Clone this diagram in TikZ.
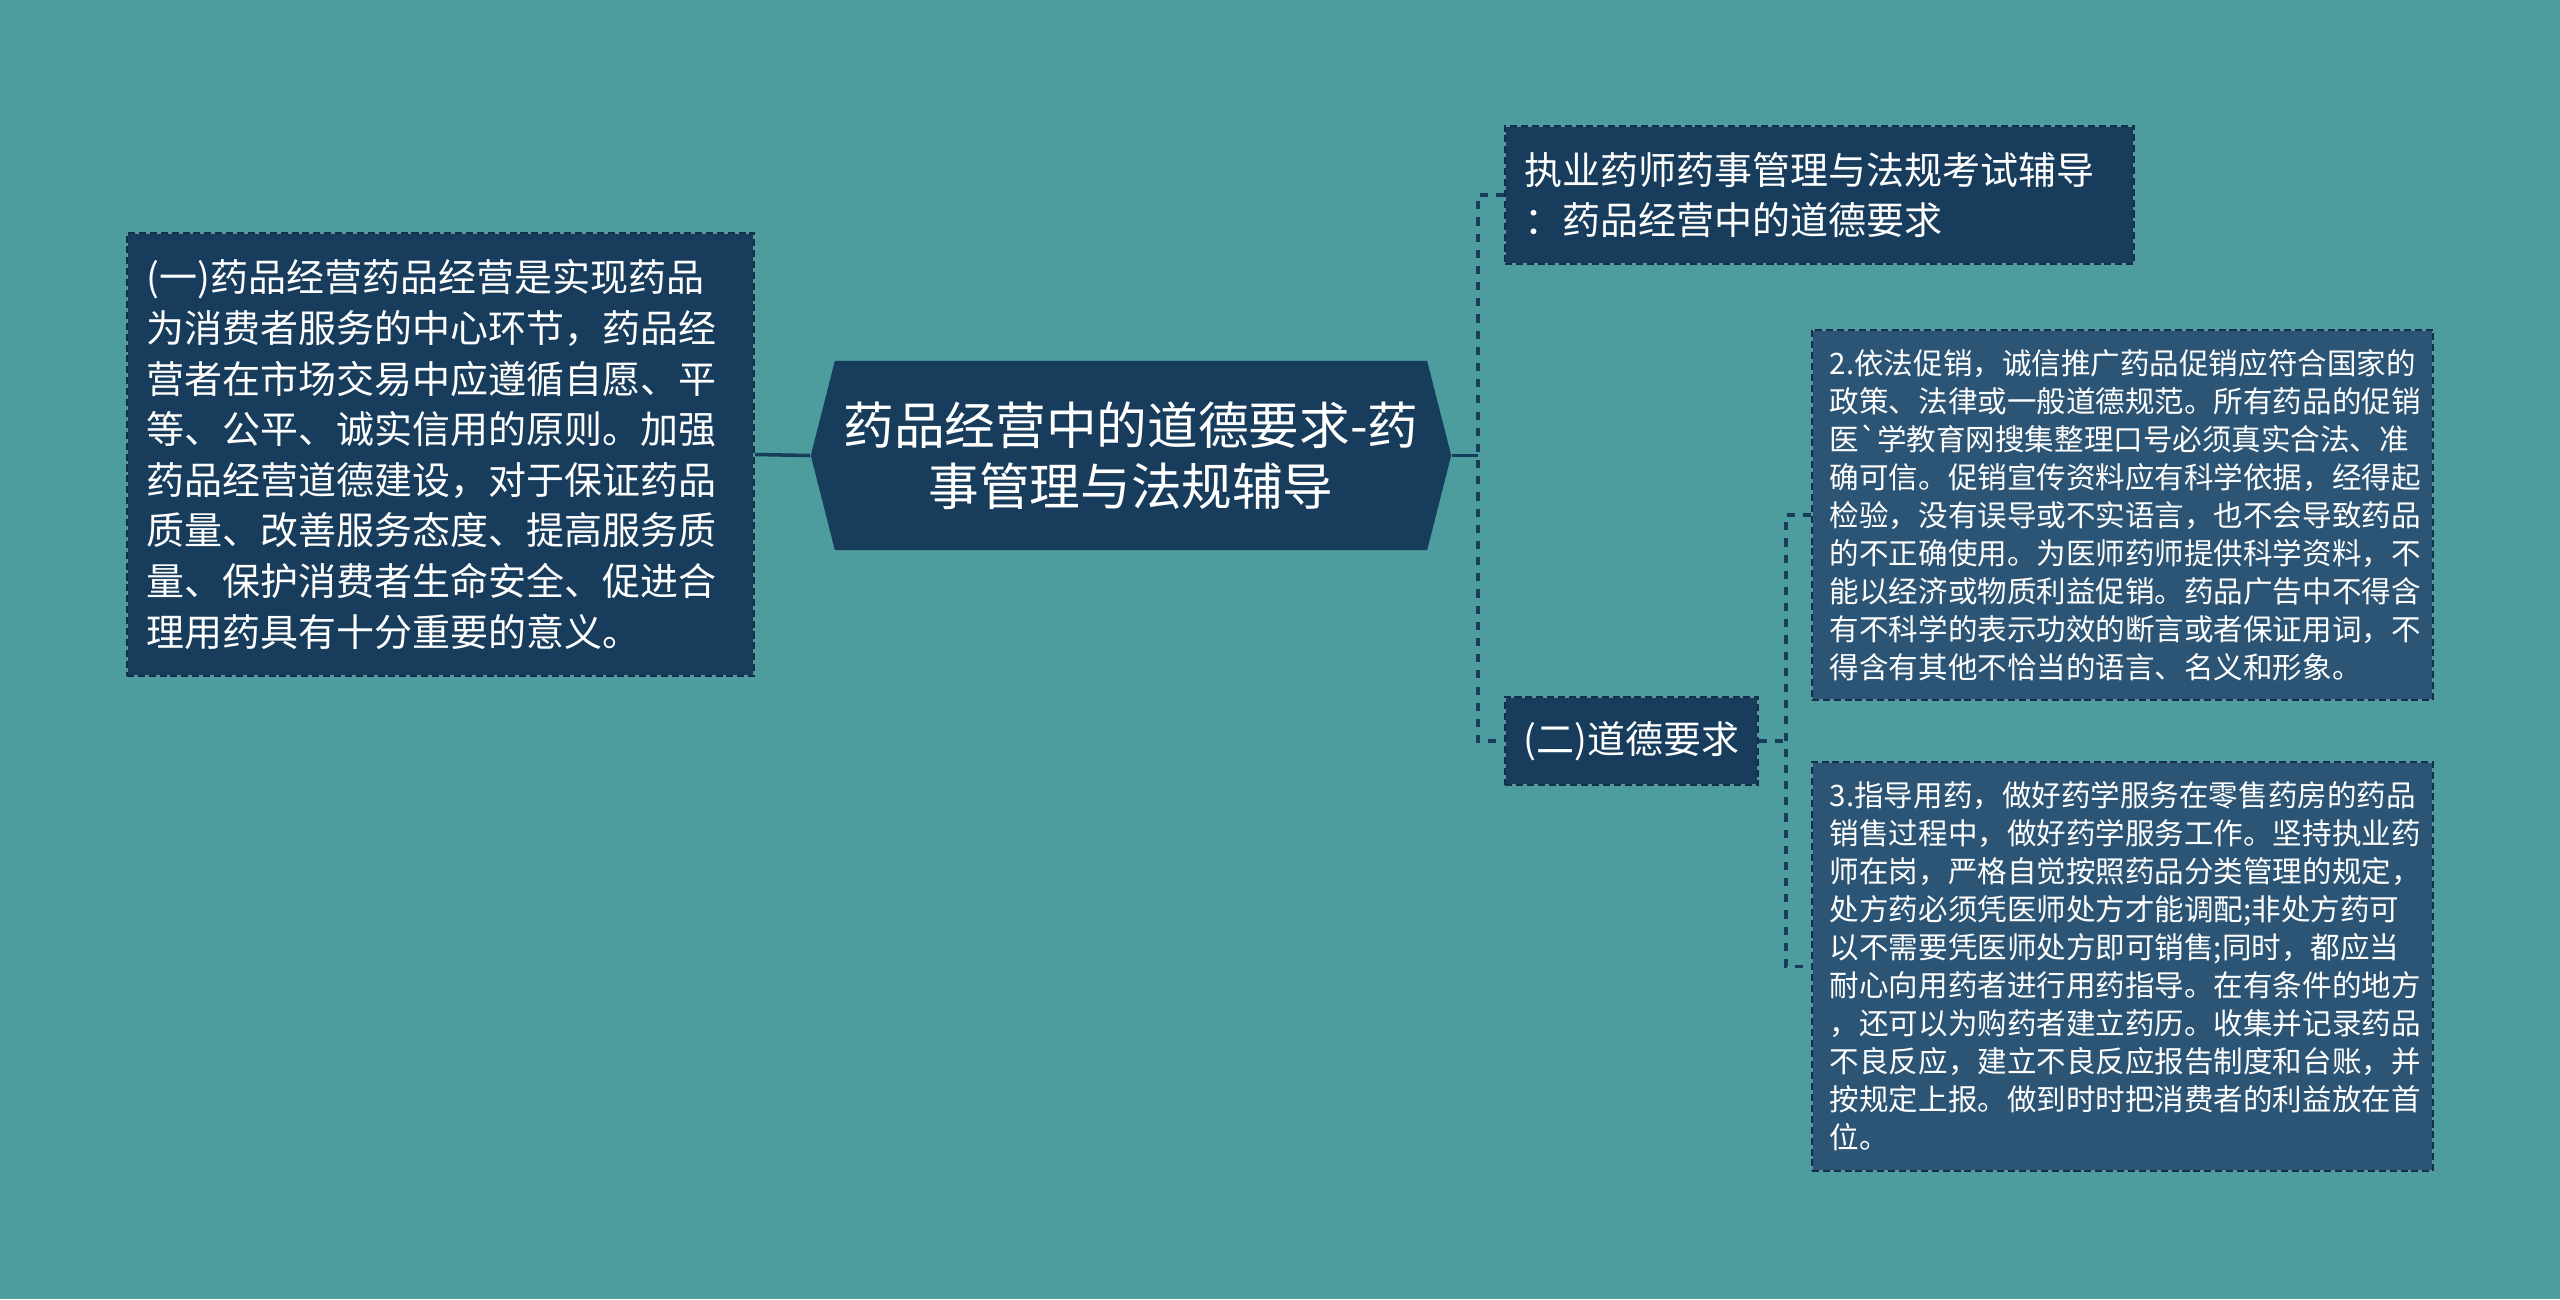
\documentclass[tikz,border=0pt]{standalone}
\usepackage{fontspec}
\newfontfamily\cjk{Noto Sans CJK SC}
\usetikzlibrary{shapes.symbols}
\definecolor{bgteal}{HTML}{4D9D9E}
\definecolor{navy}{HTML}{183D5C}
\definecolor{steel}{HTML}{2C5575}
\definecolor{edgedark}{HTML}{123049}
\definecolor{edgegap}{HTML}{5E95A2}

\begin{document}
\begin{tikzpicture}[x=0.01cm, y=-0.01cm,
    box/.style={fill=navy, text=white, align=left, inner sep=0pt,
      postaction={draw=edgegap, line width=0.6pt},
      postaction={draw=edgedark, line width=0.6pt, dash pattern=on 2pt off 1.1pt},
      font=\cjk\fontsize{10.8}{14.4}\selectfont},
    smallbox/.style={box, fill=steel, font=\cjk\fontsize{8.4}{10.8}\selectfont},
    link/.style={navy, line width=1pt},
    dashlink/.style={link, dash pattern=on 2.3pt off 2.3pt}]
    \path[use as bounding box, fill=bgteal] (0,0) rectangle (2560,1299);
    % Centre.
    \node[signal, signal to=east and west, signal pointer angle=151.5, fill=navy,
      text=white, align=center, inner sep=0pt, minimum width=6.4cm, minimum height=1.89cm,
      font=\cjk\fontsize{14.4}{17.2}\selectfont] (topic) at (1131,455.5)
      {药品经营中的道德要求-药\\事管理与法规辅导};
    % Left.
    \node[box, text width=5.87cm, inner xsep=0.2cm, minimum height=4.43cm] (intro) at (440.5,454.5)
      {(一)药品经营药品经营是实现药品\\为消费者服务的中心环节，药品经\\营者在市场交易中应遵循自愿、平\\等、公平、诚实信用的原则。加强\\药品经营道德建设，对于保证药品\\质量、改善服务态度、提高服务质\\量、保护消费者生命安全、促进合\\理用药具有十分重要的意义。};
    \draw[link] (intro.east) -- (topic.west);
    % Right.
    \node[box, text width=5.89cm, inner xsep=0.2cm, minimum height=1.38cm] (exam) at (1819.5,195)
      {执业药师药事管理与法规考试辅导\\：药品经营中的道德要求};
    \node[box, minimum width=2.53cm, minimum height=0.88cm] (ethics) at (1631.5,741)
      {(二)道德要求};
    \coordinate (fork1) at (1478,455.5);
    \draw[link] (topic.east) -- (fork1);
    \draw[dashlink] (exam.west) -| (fork1) |- (ethics.west);
    % Leaves.
    \node[smallbox, text width=5.85cm, inner xsep=0.18cm, minimum height=3.7cm] (promo) at (2122.5,515)
      {2.依法促销，诚信推广药品促销应符合国家的\\政策、法律或一般道德规范。所有药品的促销\\医`学教育网搜集整理口号必须真实合法、准\\确可信。促销宣传资料应有科学依据，经得起\\检验，没有误导或不实语言，也不会导致药品\\的不正确使用。为医师药师提供科学资料，不\\能以经济或物质利益促销。药品广告中不得含\\有不科学的表示功效的断言或者保证用词，不\\得含有其他不恰当的语言、名义和形象。};
    \node[smallbox, text width=5.85cm, inner xsep=0.18cm, minimum height=4.09cm] (guide) at (2122.5,966.5)
      {3.指导用药，做好药学服务在零售药房的药品\\销售过程中，做好药学服务工作。坚持执业药\\师在岗，严格自觉按照药品分类管理的规定，\\处方药必须凭医师处方才能调配;非处方药可\\以不需要凭医师处方即可销售;同时，都应当\\耐心向用药者进行用药指导。在有条件的地方\\，还可以为购药者建立药历。收集并记录药品\\不良反应，建立不良反应报告制度和台账，并\\按规定上报。做到时时把消费者的利益放在首\\位。};
    \coordinate (fork2) at (1786,741);
    \draw[dashlink] (ethics.east) -- (fork2);
    \draw[dashlink] (promo.west) -| (fork2) |- (guide.west);
\end{tikzpicture}
\end{document}
